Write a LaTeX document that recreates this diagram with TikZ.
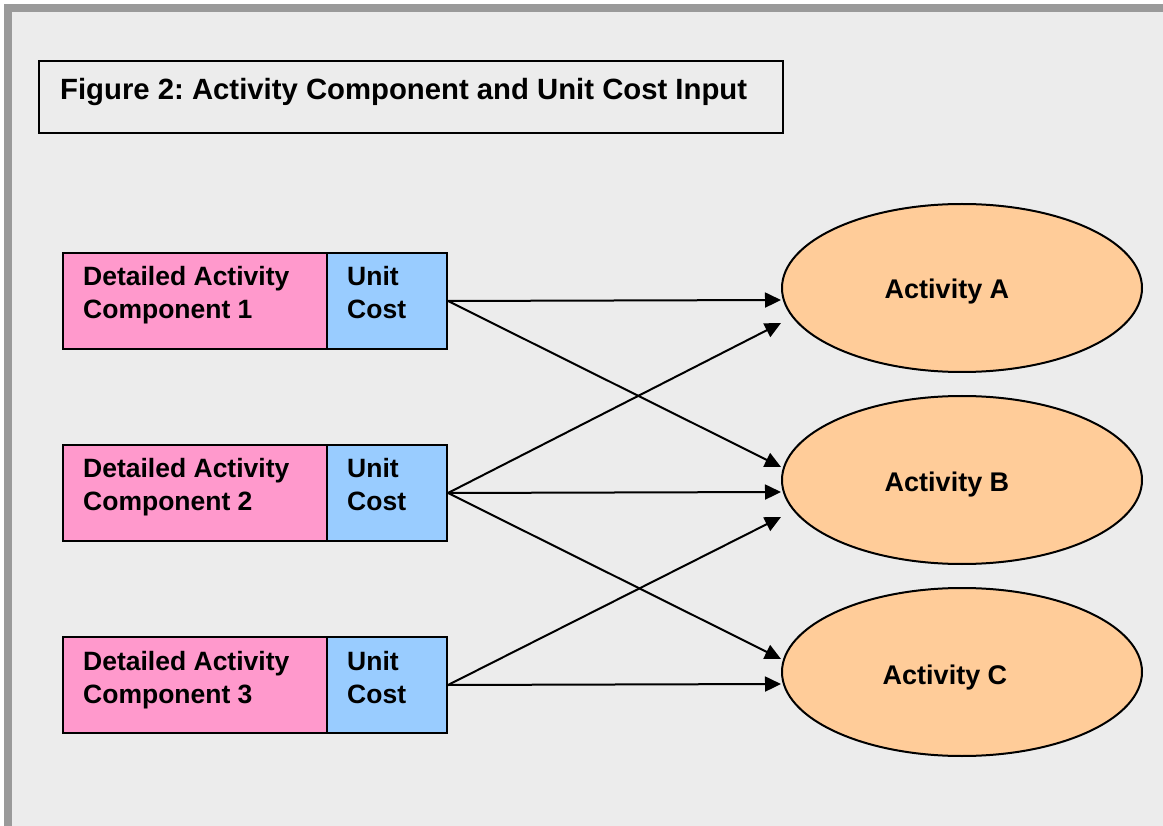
\documentclass[tikz,border=0pt]{standalone}
\usepackage{fontspec}
\setmainfont{Liberation Sans}
\usetikzlibrary{arrows.meta,calc,shapes.geometric}
\frenchspacing
\definecolor{bgc}{HTML}{ECECEC}
\definecolor{framec}{HTML}{9A9A9A}
\definecolor{pinkc}{HTML}{FF99CC}
\definecolor{bluec}{HTML}{99CCFF}
\definecolor{orangec}{HTML}{FFCC99}
\tikzset{
  compbox/.style={draw=black, line width=2pt, fill=pinkc, minimum width=264pt, minimum height=96pt, inner sep=0pt},
  costbox/.style={draw=black, line width=2pt, fill=bluec, minimum width=120pt, minimum height=96pt, inner sep=0pt},
  boxtext/.style={font=\fontsize{26.5}{33}\selectfont\bfseries, anchor=base west, inner sep=0pt},
  actnode/.style={draw=black, line width=2pt, fill=orangec, ellipse, minimum width=360pt, minimum height=168pt, inner sep=0pt},
  acttext/.style={font=\fontsize{27}{30}\selectfont\bfseries, anchor=base, inner sep=0pt},
  link/.style={line width=2pt, -{Triangle[length=16pt,width=15pt]}}
}
\begin{document}
\begin{tikzpicture}[x=1pt,y=-1pt]
\useasboundingbox (0,0) rectangle (1163,826);
\fill[white] (0,0) rectangle (1163,826);
\fill[framec] (4,4) rectangle (1163,826);
\fill[bgc] (12,12) rectangle (1163,826);
% title
\node[draw=black, line width=2pt, minimum width=744pt, minimum height=72pt, anchor=north west, inner sep=0pt] (title) at (38,60) {};
\node[anchor=base west, inner sep=0pt, font=\fontsize{29.3}{34}\selectfont\bfseries] (titletext) at (60,100) {Figure 2: Activity Component and Unit Cost Input};
% component boxes
\foreach \i/\y in {1/252,2/444,3/636}{
  \node[compbox, anchor=north west] (c\i) at (62,\y) {};
  \node[costbox, anchor=north west] (u\i) at (326,\y) {};
  \node[boxtext] (ct\i) at (83,\y+34) {Detailed Activity};
  \node[boxtext] (cs\i) at (83,\y+67) {Component \i};
  \node[boxtext] (ut\i) at (347,\y+34) {Unit};
  \node[boxtext] (us\i) at (347,\y+67) {Cost};
}
% activities
\node[actnode] (A) at (962,288) {};
\node[actnode] (B) at (962,480) {};
\node[actnode] (C) at (962,672) {};
\node[acttext] (At) at (947,299) {Activity A};
\node[acttext] (Bt) at (947,491) {Activity B};
\node[acttext] (Ct) at (945,684) {Activity C};
% target coordinates
\coordinate (a1) at ($(A.west)+(0,12)$);
\coordinate (a2) at ($(A.west)+(0,35)$);
\coordinate (b1) at ($(B.west)+(0,-13)$);
\coordinate (b2) at ($(B.west)+(0,12)$);
\coordinate (b3) at ($(B.west)+(0,37)$);
\coordinate (cc1) at ($(C.west)+(0,-13)$);
\coordinate (cc2) at ($(C.west)+(0,12)$);
% connectors
\draw[link] (u1.east) -- (a1);
\draw[link] (u1.east) -- (b1);
\draw[link] (u2.east) -- (a2);
\draw[link] (u2.east) -- (b2);
\draw[link] (u2.east) -- (cc1);
\draw[link] (u3.east) -- (b3);
\draw[link] (u3.east) -- (cc2);
\end{tikzpicture}
\end{document}
